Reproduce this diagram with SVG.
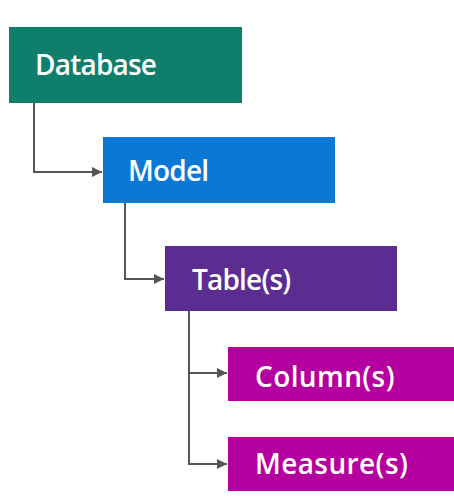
<svg xmlns="http://www.w3.org/2000/svg" width="454" height="503" viewBox="0 0 454 503">
<style>
.lbl{font-family:"Open Sans","Liberation Sans",sans-serif;font-size:28px;fill:#ffffff;letter-spacing:-0.8px;font-weight:600}
.lbl2{font-family:"Open Sans","Liberation Sans",sans-serif;font-size:28px;fill:#ffffff;font-weight:600;letter-spacing:0.4px}
.conn{fill:none;stroke:#555555;stroke-width:2}
</style>
<defs>
<marker id="arr" viewBox="0 0 10 10" refX="10" refY="5" markerWidth="5" markerHeight="5" orient="auto" markerUnits="strokeWidth">
<path d="M0,0 L10,5 L0,10 z" fill="#555555"/>
</marker>
</defs>
<rect width="454" height="503" fill="#ffffff"/>
<g id="connectors">
<path class="conn" d="M34,103 V172 H102" marker-end="url(#arr)"/>
<path class="conn" d="M125,203 V279 H164" marker-end="url(#arr)"/>
<path class="conn" d="M189,311 V464 H227" marker-end="url(#arr)"/>
<path class="conn" d="M189,373 H227" marker-end="url(#arr)"/>
</g>
<g id="database">
<rect x="9" y="27" width="233" height="76" fill="#0f7f6b"/>
<text class="lbl" x="35" y="75">Database</text>
</g>
<g id="model">
<rect x="103" y="137" width="232" height="66" fill="#0a78d4"/>
<text class="lbl" x="128" y="181">Model</text>
</g>
<g id="tables">
<rect x="165" y="246" width="232" height="65" fill="#5c2d91"/>
<text class="lbl" x="192" y="290">Table(s)</text>
</g>
<g id="columns">
<rect x="228" y="347" width="226" height="54" fill="#b4009e"/>
<text class="lbl2" x="255" y="387">Column(s)</text>
</g>
<g id="measures">
<rect x="228" y="437" width="226" height="54" fill="#b4009e"/>
<text class="lbl2" x="255" y="474">Measure(s)</text>
</g>
</svg>
